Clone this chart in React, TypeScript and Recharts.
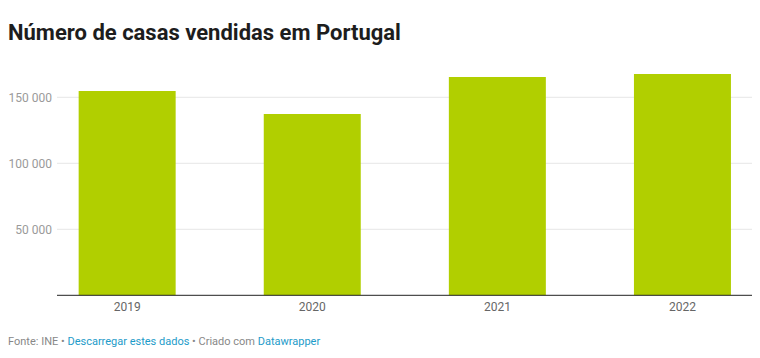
import { BarChart, Bar, XAxis, YAxis, CartesianGrid } from "recharts";

const years = ["2019", "2020", "2021", "2022"];
const sales = [154800, 137400, 165400, 167600];
const yTicks = [50000, 100000, 150000];

const data = years.map((year, i) => ({ idx: i, year, value: sales[i] }));

const fmt = (v: number) => v.toLocaleString("en-US").replace(/,/g, " ");

export default function App() {
  return (
    <div
      style={{
        position: "absolute",
        left: 0,
        top: 0,
        width: 760,
        height: 358,
        background: "#fff",
        fontFamily: "Roboto, sans-serif",
      }}
    >
      <div
        style={{
          position: "absolute",
          left: 8,
          top: 21.5,
          fontSize: 22,
          lineHeight: "22px",
          fontWeight: 700,
          color: "#1d1d1d",
          whiteSpace: "nowrap",
        }}
      >
        Número de casas vendidas em Portugal
      </div>

      <div style={{ position: "absolute", left: 0, top: 0 }}>
        <BarChart
          width={760}
          height={358}
          data={data}
          margin={{ top: 57.7, right: 8, bottom: 42.7, left: 0 }}
        >
          {/* grid only at the labelled ticks, drawn behind the bars */}
          <CartesianGrid vertical={false} horizontalValues={yTicks} stroke="#e6e6e6" />
          <XAxis
            type="number"
            dataKey="idx"
            domain={[-0.3793, 3.3755]}
            ticks={[0, 1, 2, 3]}
            tickFormatter={(i: number) => years[i]}
            allowDataOverflow
            height={20}
            tickSize={0}
            tickMargin={7}
            axisLine={{ stroke: "#222", strokeWidth: 1 }}
            tickLine={false}
            tick={{ fill: "#666", fontSize: 12, fontFamily: "Roboto, sans-serif" }}
          />
          <YAxis
            type="number"
            domain={[0, 180000]}
            ticks={yTicks}
            width={57}
            tickSize={0}
            tickMargin={5}
            axisLine={false}
            tickLine={false}
            tickFormatter={fmt}
            tick={{ fill: "#9a9a9a", fontSize: 12, fontFamily: "Roboto, sans-serif" }}
          />
          <Bar dataKey="value" fill="#b1cf00" barSize={97} isAnimationActive={false} />
        </BarChart>
      </div>

      <div
        style={{
          position: "absolute",
          left: 8,
          top: 335.7,
          fontSize: 11,
          lineHeight: "11px",
          color: "#888",
          whiteSpace: "nowrap",
        }}
      >
        Fonte: INE • <span style={{ color: "#1d9bc9" }}>Descarregar estes dados</span> • Criado com{" "}
        <span style={{ color: "#1d9bc9" }}>Datawrapper</span>
      </div>
    </div>
  );
}
